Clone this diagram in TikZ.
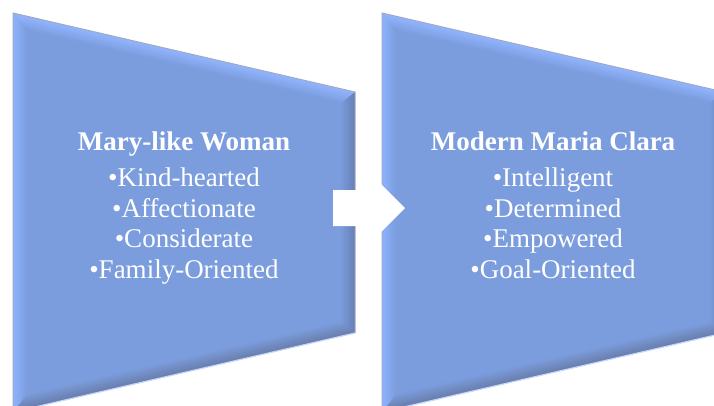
\documentclass[tikz,border=0pt]{standalone}
\usepackage{fontspec}
\setmainfont{Liberation Serif}
\usetikzlibrary{calc}
\definecolor{boxblue}{RGB}{123,157,221}
\definecolor{toplight}{RGB}{146,181,255}
\definecolor{leftlight}{RGB}{143,179,255}
\definecolor{rightdark}{RGB}{104,128,182}
\definecolor{bottomdark}{RGB}{106,126,172}
\definecolor{edgegray}{RGB}{158,170,196}
\definecolor{glowblue}{RGB}{196,214,255}
\tikzset{
	boxtext/.style={text=white, align=center, anchor=north, inner sep=0pt, font=\fontsize{27bp}{30.5bp}\selectfont},
}
% bevelled trapezoid: #1 = left x, #2 = right x
\def\bevelbox#1#2{
	\foreach \i in {0,...,16}{
		\pgfmathsetmacro{\dd}{\i*0.875}
		\coordinate (tl\i) at ({#1+\dd},{13+1.257*\dd});
		\coordinate (tr\i) at ({#2-\dd},{13+0.231*(#2-#1-\dd)+1.026*\dd});
		\coordinate (br\i) at ({#2-\dd},{412-0.231*(#2-#1-\dd)-1.026*\dd});
		\coordinate (bl\i) at ({#1+\dd},{412-1.257*\dd});
	}
	\foreach \i [evaluate=\i as \m using int(100-6.25*\i)] in {0,...,15}{
		\fill[toplight!\m!boxblue] (tl\i) -- (tr\i) -- (tr16) -- (tl16) -- cycle;
		\fill[rightdark!\m!boxblue] (tr\i) -- (br\i) -- (br16) -- (tr16) -- cycle;
		\fill[bottomdark!\m!boxblue] (br\i) -- (bl\i) -- (bl16) -- (br16) -- cycle;
		\fill[leftlight!\m!boxblue] (bl\i) -- (tl\i) -- (tl16) -- (bl16) -- cycle;
	}
	\fill[boxblue] (tl16) -- (tr16) -- (br16) -- (bl16) -- cycle;
	\draw[edgegray, line width=1bp] (bl0) -- (tl0) -- (tr0) -- (br0);
	\draw[glowblue, line width=1.2bp] (br0) -- (bl0);
}

\begin{document}
\begin{tikzpicture}[x=1bp, y=-1bp]
	%%%%% START %%%%%
	\useasboundingbox (0,0) rectangle (714,405);
	\clip (0,0) rectangle (714,405);
	
	% left box
	\bevelbox{13}{355}
	
	% right box
	\bevelbox{382}{724}
	
	% white block arrow between the boxes
	\fill[white] (333,190) -- (370,190) -- (370,173) -- (405,208) -- (370,243) -- (370,226) -- (333,226) -- cycle;
	
	\node[boxtext] (maryWoman) at (184,131.5) {\textbf{Mary-like Woman}\\[6bp]•Kind-hearted\\•Affectionate\\•Considerate\\•Family-Oriented};
	\node[boxtext] (modernMaria) at (553,131.5) {\textbf{Modern Maria Clara}\\[6bp]•Intelligent\\•Determined\\•Empowered\\•Goal-Oriented};
	%%%%% END %%%%%
\end{tikzpicture}
\end{document}
